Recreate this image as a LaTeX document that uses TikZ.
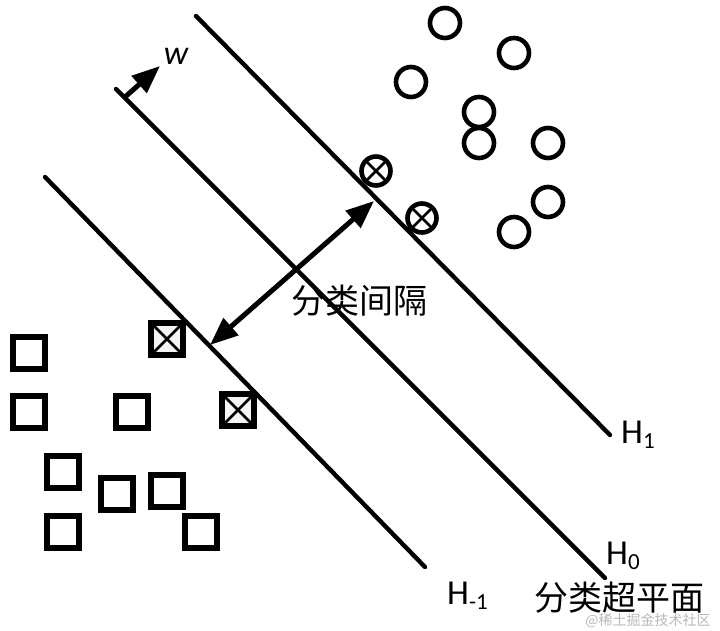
\documentclass[tikz,border=0pt]{standalone}
\usepackage{fontspec}
\setmainfont{Carlito}
\newfontfamily\cjkfont{Noto Sans CJK SC}
\usetikzlibrary{arrows.meta}
\definecolor{svmInk}{RGB}{0,0,0}
\definecolor{svmPale}{RGB}{244,244,244}
\definecolor{svmMark}{RGB}{185,185,185}
\definecolor{svmWhite}{RGB}{255,255,255}
\tikzset{
  svmplane/.style={draw=svmInk,line width=4.4pt,line cap=round},
  svmcircle/.style={circle,draw=svmInk,line width=4.6pt,minimum size=30pt,inner sep=0pt},
  svmsquare/.style={rectangle,draw=svmInk,line width=5.2pt,minimum size=32pt,inner sep=0pt},
  svmcross/.style={path picture={%
    \draw[svmInk,line width=2.8pt]
      (path picture bounding box.north west) -- (path picture bounding box.south east)
      (path picture bounding box.north east) -- (path picture bounding box.south west);}},
  svmsupcircle/.style={svmcircle,minimum size=29pt,svmcross},
  svmsupsquare/.style={svmsquare,fill=svmPale,svmcross},
  svmarrow/.style={draw=svmInk,line width=5pt,-{Triangle[length=28pt,width=22pt]}},
  svmmargin/.style={draw=svmInk,line width=5pt,
    {Triangle[length=28pt,width=22pt]}-{Triangle[length=28pt,width=22pt]}},
  svmlabel/.style={font=\fontsize{35}{40}\selectfont,text=svmInk,inner sep=0pt},
  svmcjk/.style={font=\cjkfont\fontsize{34}{40}\selectfont,text=svmInk,inner sep=0pt},
  svmwater/.style={font=\cjkfont\fontsize{14}{17}\selectfont,text=svmMark,inner sep=0pt},
}
\newcommand{\PlaneName}[1]{H\raisebox{-5pt}{\fontsize{23}{25}\selectfont #1}}

\begin{document}
\begin{tikzpicture}[x=1pt,y=-1pt]
\useasboundingbox[fill=svmWhite] (0,0) rectangle (720,631);

% Three parallel hyperplanes H1, H0, H-1.
\coordinate (hpOneS) at (196,16);  \coordinate (hpOneE) at (610,435);
\coordinate (hpZeroS) at (116,89); \coordinate (hpZeroE) at (605,578);
\coordinate (hpNegS) at (45,177);  \coordinate (hpNegE) at (425,567);
\draw[svmplane] (hpOneS) -- (hpOneE);
\draw[svmplane] (hpZeroS) -- (hpZeroE);
\draw[svmplane] (hpNegS) -- (hpNegE);

% Normal vector w on H0.
\coordinate (wBase) at (125,97);
\coordinate (wTip) at (160,66);
\draw[svmarrow] (wBase) -- (wTip);
\node[font=\itshape\fontsize{34}{38}\selectfont,inner sep=0pt] (wLabel) at (176,56) {w};

% Margin between H1 and H-1.
\coordinate (marginTop) at (374,201);
\coordinate (marginBot) at (210,345);
\draw[svmmargin] (marginTop) -- (marginBot);
\node[svmcjk] (marginText) at (359,301) {分类间隔};

% Positive class: circles.
\foreach \px/\py [count=\i] in {445/23,514/53,411/82,479/112,479/143,548/143,548/202,514/232}
  \node[svmcircle] (pos\i) at (\px,\py) {};
\node[svmsupcircle] (posSupA) at (376,171) {};
\node[svmsupcircle] (posSupB) at (422,218) {};

% Negative class: squares.
\foreach \px/\py [count=\i] in {29/353,29/412,132/412,63/472,117/494,167/491,63/532,201/532}
  \node[svmsquare] (neg\i) at (\px,\py) {};
\node[svmsupsquare] (negSupA) at (167,339) {};
\node[svmsupsquare] (negSupB) at (238,410) {};

% Plane names.
\node[svmlabel,anchor=base west] (nameOne) at (621,443) {\PlaneName{1}};
\node[svmlabel,anchor=base west] (nameZero) at (606,564) {\PlaneName{0}};
\node[svmlabel,anchor=base west] (nameNeg) at (447,604) {\PlaneName{-1}};
\node[svmcjk] (planeText) at (619,598) {分类超平面};
\node[svmwater] (waterMark) at (648,621) {@稀土掘金技术社区};
\end{tikzpicture}
\end{document}
